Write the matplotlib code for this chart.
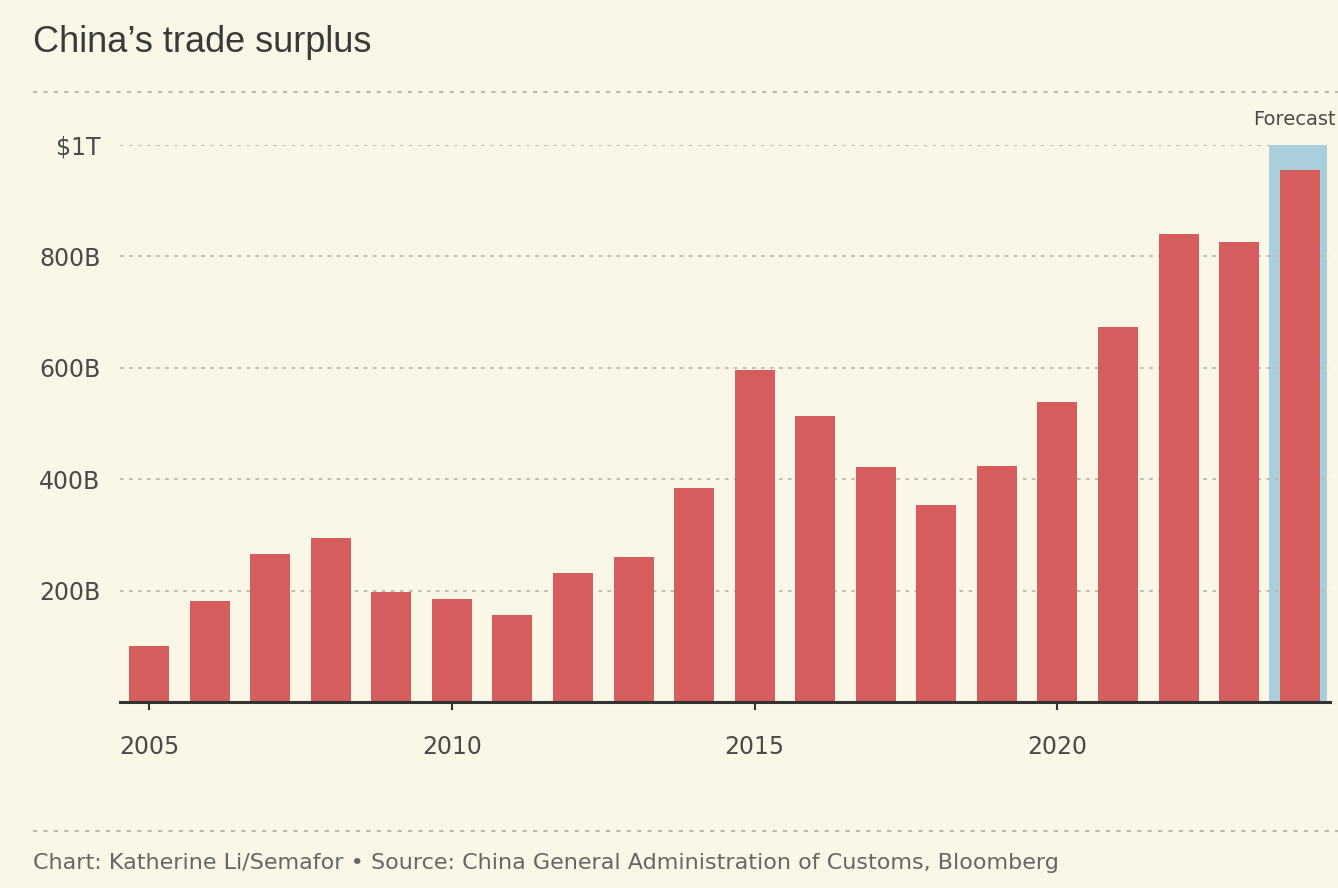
import matplotlib
matplotlib.use("Agg")
import matplotlib.pyplot as plt
from matplotlib import font_manager

# China's trade surplus, billions of US dollars (2024 is forecast)
years = [2005, 2006, 2007, 2008, 2009, 2010, 2011, 2012, 2013, 2014,
         2015, 2016, 2017, 2018, 2019, 2020, 2021, 2022, 2023, 2024]
surplus = [100, 181, 266, 294, 197, 185, 156, 232, 260, 384,
           596, 513, 422, 354, 424, 539, 673, 840, 826, 955]
ytick_vals = [200, 400, 600, 800, 1000]
ytick_labels = ["200B", "400B", "600B", "800B", "$1T"]
xtick_vals = [2005, 2010, 2015, 2020]
forecast_year = 2024

bg = "#FAF7E6"
bar_color = "#D65D5D"
band_color = "#A9CFDD"
text_color = "#4a4a4a"
grid_color = "#bcb9ad"

installed = {f.name for f in font_manager.fontManager.ttflist}
narrow = "Liberation Sans Narrow" if "Liberation Sans Narrow" in installed else "DejaVu Sans"

fig = plt.figure(figsize=(13.38, 8.88), dpi=100, facecolor=bg)
ax = fig.add_axes([120 / 1338, 1 - 702 / 888, 1210 / 1338, 557 / 888])
ax.set_facecolor(bg)

#forecast band behind the last bar
ax.axvspan(forecast_year - 0.5, forecast_year + 0.45, color=band_color, zorder=1, lw=0)
ax.bar(years, surplus, width=0.66, color=bar_color, zorder=3)

ax.set_xlim(2004.52, 2024.5)
ax.set_ylim(0, 1000)

ax.set_yticks(ytick_vals)
ax.set_yticklabels(ytick_labels)
ax.set_xticks(xtick_vals)
ax.set_xticklabels([str(x) for x in xtick_vals])

band_start = (forecast_year - 0.5 - 2004.52) / (2024.5 - 2004.52)
for y in ytick_vals:
    ax.axhline(y, color=grid_color, lw=1.3, ls=(0, (2, 3)), zorder=2,
               xmax=band_start if y == 1000 else 1)

for s in ["top", "right", "left"]:
    ax.spines[s].set_visible(False)
ax.spines["bottom"].set_color("#333333")
ax.spines["bottom"].set_linewidth(2.2)
ax.spines["bottom"].set_zorder(4)

ax.tick_params(axis="y", length=0, pad=14, labelsize=17, labelcolor=text_color)
ax.tick_params(axis="x", length=6, width=1.5, color="#333333", pad=18, labelsize=17, labelcolor=text_color)
for lab in ax.get_xticklabels() + ax.get_yticklabels():
    lab.set_fontfamily(narrow)

ax.text(forecast_year - 0.77, 1045, "Forecast", fontsize=14, color=text_color,
        family=narrow, ha="left", va="center", clip_on=False)

#title, rules and footer
fig.text(33 / 1338, 1 - 42 / 888, "China\u2019s trade surplus", fontsize=26, color="#3a3a3a",
         family="Liberation Sans", ha="left", va="center")
fig.add_artist(plt.Line2D([33 / 1338, 1], [1 - 92 / 888] * 2, color=grid_color, lw=1.5, ls=(0, (2, 3))))
fig.add_artist(plt.Line2D([33 / 1338, 1], [1 - 831 / 888] * 2, color=grid_color, lw=1.5, ls=(0, (2, 3))))
fig.text(33 / 1338, 1 - 863 / 888,
         "Chart: Katherine Li/Semafor \u2022 Source: China General Administration of Customs, Bloomberg",
         fontsize=16, color="#666666", family=narrow, ha="left", va="center")

fig.savefig("out.png", dpi=100, facecolor=bg)
